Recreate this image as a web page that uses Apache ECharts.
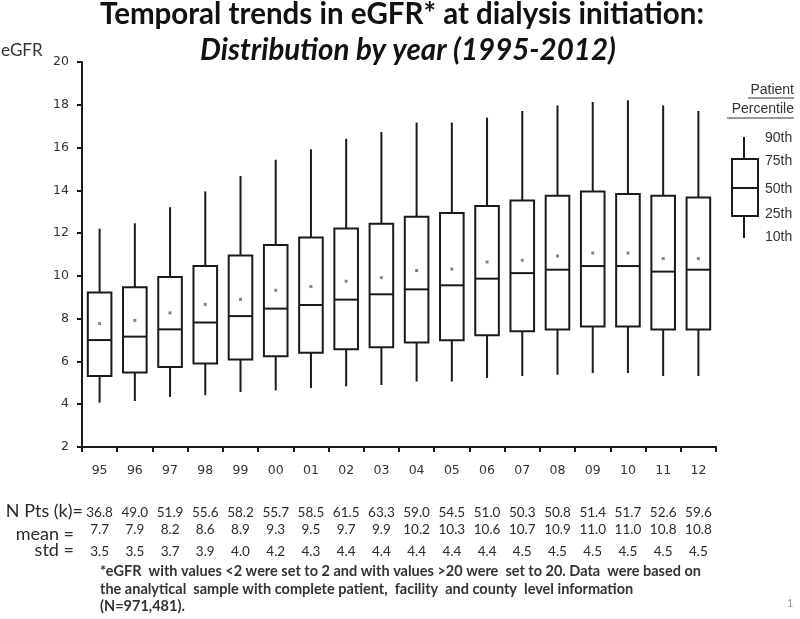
<!DOCTYPE html>
<html>
<head>
<meta charset="utf-8">
<script src="https://cdn.jsdelivr.net/npm/echarts@6/dist/echarts.min.js"></script>
<style>html,body{margin:0;padding:0;background:#fff;}#c{width:800px;height:619px;}</style>
</head>
<body>
<div id="c"></div>
<script>
const years = ['95','96','97','98','99','00','01','02','03','04','05','06','07','08','09','10','11','12'];
const p10 = [4.07,4.15,4.34,4.42,4.57,4.65,4.76,4.84,4.90,5.06,5.06,5.23,5.32,5.38,5.46,5.46,5.32,5.32];
const p25 = [5.32,5.48,5.74,5.90,6.09,6.24,6.41,6.57,6.66,6.88,6.99,7.22,7.41,7.49,7.63,7.63,7.49,7.49];
const p50 = [7.00,7.16,7.50,7.82,8.12,8.47,8.64,8.89,9.14,9.37,9.56,9.87,10.13,10.29,10.46,10.46,10.20,10.29];
const p75 = [9.22,9.47,9.95,10.46,10.95,11.44,11.79,12.21,12.44,12.77,12.94,13.27,13.52,13.75,13.94,13.83,13.75,13.67];
const p90 = [12.21,12.46,13.21,13.95,14.67,15.43,15.92,16.41,16.73,17.17,17.17,17.40,17.71,17.97,18.13,18.21,17.97,17.71];
const meanDot = [7.77,7.92,8.27,8.67,8.90,9.33,9.50,9.75,9.92,10.25,10.32,10.65,10.73,10.93,11.07,11.07,10.81,10.81];
const nPts = ['36.8','49.0','51.9','55.6','58.2','55.7','58.5','61.5','63.3','59.0','54.5','51.0','50.3','50.8','51.4','51.7','52.6','59.6'];
const meanTxt = ['7.7','7.9','8.2','8.6','8.9','9.3','9.5','9.7','9.9','10.2','10.3','10.6','10.7','10.9','11.0','11.0','10.8','10.8'];
const stdTxt = ['3.5','3.5','3.7','3.9','4.0','4.2','4.3','4.4','4.4','4.4','4.4','4.4','4.5','4.5','4.5','4.5','4.5','4.5'];
const yTicks = {min: 2, max: 20, interval: 2};

const chart = echarts.init(document.getElementById('c'), null, {renderer: 'canvas'});
const INK = '#1a1a1a';
const TXT = '#2b2b2b';
const FONT = 'Lato, "DejaVu Sans", sans-serif';
const LEG = '"Liberation Sans", Arial, sans-serif';

function tableAxis(data, offset) {
  return {
    type: 'category', gridIndex: 0, position: 'bottom', offset: offset,
    data: data, boundaryGap: true,
    axisLine: {show: false}, axisTick: {show: false}, splitLine: {show: false},
    axisLabel: {interval: 0, margin: 0, color: TXT, fontFamily: FONT, fontSize: 13.5}
  };
}

const boxData = years.map((y, i) => [i, p10[i], p25[i], p50[i], p75[i], p90[i]]);

const option = {
  animation: false,
  backgroundColor: '#fff',
  title: [
    {text: 'Temporal trends in eGFR* at dialysis initiation:', left: 402, textAlign: 'center', top: -1, padding: 0,
     textStyle: {fontFamily: FONT, fontWeight: 'bold', fontSize: 29.5, color: '#111'}},
    {text: 'Distribution by year (1995-2012)', left: 408, textAlign: 'center', top: 35, padding: 0,
     textStyle: {fontFamily: FONT, fontWeight: 'bold', fontStyle: 'italic', fontSize: 29.5, color: '#111'}}
  ],
  grid: {left: 82, right: 84, top: 62, bottom: 172},
  xAxis: [
    {
      type: 'category', data: years, boundaryGap: true,
      axisLine: {lineStyle: {color: INK, width: 2}},
      axisTick: {show: true, interval: 0, length: 5, lineStyle: {color: INK, width: 2}},
      axisLabel: {interval: 0, margin: 17, color: '#333', fontFamily: '"DejaVu Sans", sans-serif', fontSize: 12.5}
    },
    tableAxis(nPts, 59),
    tableAxis(meanTxt, 76),
    tableAxis(stdTxt, 98)
  ],
  yAxis: {
    type: 'value', min: yTicks.min, max: yTicks.max, interval: yTicks.interval,
    axisLine: {show: true, lineStyle: {color: INK, width: 2}},
    axisTick: {show: true, length: 5, lineStyle: {color: INK, width: 2}},
    splitLine: {show: false},
    axisLabel: {margin: 13, color: '#333', fontFamily: '"DejaVu Sans", sans-serif', fontSize: 12.5}
  },
  series: [
    {
      type: 'custom', xAxisIndex: 0, yAxisIndex: 0,
      encode: {x: 0, y: [1, 2, 3, 4, 5]},
      data: boxData,
      renderItem: function (params, api) {
        const i = api.value(0);
        const lo = api.coord([i, api.value(1)]);
        const q1 = api.coord([i, api.value(2)]);
        const md = api.coord([i, api.value(3)]);
        const q3 = api.coord([i, api.value(4)]);
        const hi = api.coord([i, api.value(5)]);
        const w = api.size([1, 0])[0] * 0.67;
        const x = lo[0];
        const st = {stroke: INK, lineWidth: 2, fill: null};
        return {type: 'group', children: [
          {type: 'line', shape: {x1: x, y1: hi[1], x2: x, y2: q3[1]}, style: st},
          {type: 'line', shape: {x1: x, y1: q1[1], x2: x, y2: lo[1]}, style: st},
          {type: 'rect', shape: {x: x - w / 2, y: q3[1], width: w, height: q1[1] - q3[1]}, style: {stroke: INK, lineWidth: 2, fill: '#fff'}},
          {type: 'line', shape: {x1: x - w / 2, y1: md[1], x2: x + w / 2, y2: md[1]}, style: st}
        ]};
      },
      z: 2
    },
    {
      type: 'scatter', xAxisIndex: 0, yAxisIndex: 0,
      data: years.map((y, i) => [i, meanDot[i]]),
      symbol: 'rect', symbolSize: 3,
      itemStyle: {color: '#666'}, z: 5
    }
  ],
  graphic: [
    {type: 'text', x: 1, y: 42, style: {text: 'eGFR', fontFamily: FONT, fontSize: 17, fill: '#333'}},
    {type: 'text', x: 83, y: 502, style: {text: 'N Pts (k)=', textAlign: 'right', fontFamily: FONT, fontSize: 18, fill: TXT}},
    {type: 'text', x: 74, y: 525, style: {text: 'mean =', textAlign: 'right', fontFamily: FONT, fontSize: 18, fill: TXT}},
    {type: 'text', x: 74, y: 541, style: {text: 'std =', textAlign: 'right', fontFamily: FONT, fontSize: 18, fill: TXT}},
    {type: 'text', x: 100, y: 563, style: {
      text: '*eGFR  with values <2 were set to 2 and with values >20 were  set to 20. Data  were based on\nthe analytical  sample with complete patient,  facility  and county  level information\n(N=971,481).',
      fontFamily: FONT, fontSize: 14.5, fontWeight: 'bold', lineHeight: 17.5, fill: '#333'}},
    {type: 'text', x: 787, y: 598, style: {text: '1', fontFamily: FONT, fontSize: 11, fill: '#999'}},
    // legend
    {type: 'text', x: 794, y: 83, style: {text: 'Patient', textAlign: 'right', fontFamily: LEG, fontSize: 14, fill: '#333'}},
    {type: 'line', shape: {x1: 748, y1: 98, x2: 794, y2: 98}, style: {stroke: '#333', lineWidth: 1}},
    {type: 'text', x: 794, y: 102, style: {text: 'Percentile', textAlign: 'right', fontFamily: LEG, fontSize: 14, fill: '#333'}},
    {type: 'line', shape: {x1: 727, y1: 118, x2: 794, y2: 118}, style: {stroke: '#333', lineWidth: 1}},
    {type: 'line', shape: {x1: 744, y1: 137, x2: 744, y2: 159}, style: {stroke: INK, lineWidth: 2}},
    {type: 'rect', shape: {x: 732, y: 159, width: 26, height: 57}, style: {stroke: INK, lineWidth: 2, fill: '#fff'}},
    {type: 'line', shape: {x1: 732, y1: 188, x2: 758, y2: 188}, style: {stroke: INK, lineWidth: 2}},
    {type: 'line', shape: {x1: 744, y1: 216, x2: 744, y2: 238}, style: {stroke: INK, lineWidth: 2}},
    {type: 'text', x: 765, y: 138, style: {text: '90th', textVerticalAlign: 'middle', fontFamily: LEG, fontSize: 14, fill: '#333'}},
    {type: 'text', x: 765, y: 161, style: {text: '75th', textVerticalAlign: 'middle', fontFamily: LEG, fontSize: 14, fill: '#333'}},
    {type: 'text', x: 765, y: 189, style: {text: '50th', textVerticalAlign: 'middle', fontFamily: LEG, fontSize: 14, fill: '#333'}},
    {type: 'text', x: 765, y: 214, style: {text: '25th', textVerticalAlign: 'middle', fontFamily: LEG, fontSize: 14, fill: '#333'}},
    {type: 'text', x: 765, y: 237, style: {text: '10th', textVerticalAlign: 'middle', fontFamily: LEG, fontSize: 14, fill: '#333'}}
  ]
};
chart.setOption(option);
</script>
</body>
</html>
